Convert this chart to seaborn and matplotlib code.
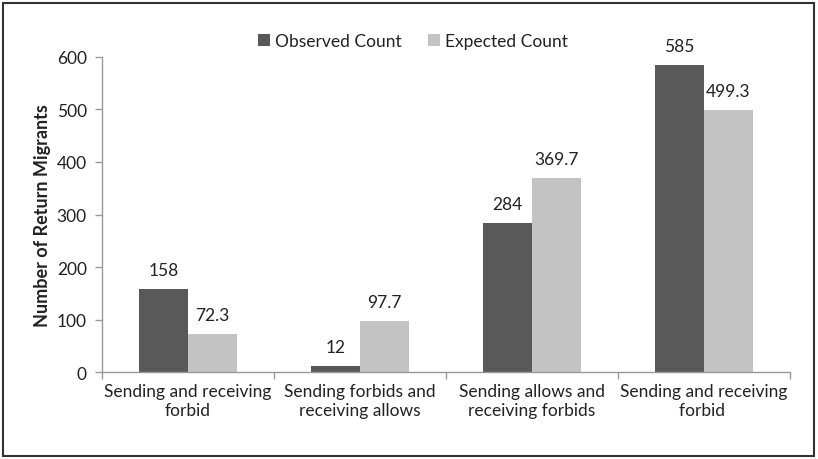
import matplotlib
matplotlib.use("Agg")
import matplotlib.pyplot as plt
from matplotlib.patches import Rectangle
from matplotlib.ticker import FixedLocator
import seaborn as sns
import pandas as pd

categories = [
    "Sending and receiving\nforbid",
    "Sending forbids and\nreceiving allows",
    "Sending allows and\nreceiving forbids",
    "Sending and receiving\nforbid ",
]
observed = [158, 12, 284, 585]
expected = [72.3, 97.7, 369.7, 499.3]
series_names = ["Observed Count", "Expected Count"]
y_ticks = [0, 100, 200, 300, 400, 500, 600]

df = pd.DataFrame({
    "category": categories * 2,
    "series": [series_names[0]] * 4 + [series_names[1]] * 4,
    "value": observed + expected,
})

sns.set_theme(style="white")
plt.rcParams["font.family"] = ["Lato", "DejaVu Sans"]

fig = plt.figure(figsize=(8.18, 4.6), dpi=100)
ax = fig.add_axes([0.1247, 0.189, 0.8411, 0.685])

sns.barplot(data=df, x="category", y="value", hue="series",
            palette=["#595959", "#c3c3c3"], width=0.57, saturation=1,
            order=categories, hue_order=series_names, linewidth=0, ax=ax)

labels = [["158", "12", "284", "585"], ["72.3", "97.7", "369.7", "499.3"]]
for cont, labs in zip(ax.containers, labels):
    ax.bar_label(cont, labels=labs, padding=8, fontsize=12.5, color="#222222")

ax.set_ylim(0, 600)
ax.set_xlim(-0.5, 3.5)
ax.set_yticks(y_ticks)
ax.tick_params(axis="y", labelsize=12.5, length=5, width=1, color="#999999",
               left=True, labelcolor="#222222", pad=6)
ax.tick_params(axis="x", which="major", length=0, labelsize=12.5,
               labelcolor="#222222", pad=8)
ax.xaxis.set_minor_locator(FixedLocator([-0.5, 0.5, 1.5, 2.5, 3.5]))
ax.tick_params(axis="x", which="minor", length=5, width=1, color="#999999",
               bottom=True)
ax.set_xlabel("")
ax.set_ylabel("Number of Return Migrants", fontsize=13, fontweight="bold",
              color="#222222", labelpad=4)

for side in ["top", "right"]:
    ax.spines[side].set_visible(False)
for side in ["left", "bottom"]:
    ax.spines[side].set_color("#999999")
    ax.spines[side].set_linewidth(1)

leg = ax.legend(loc="center", bbox_to_anchor=(0.452, 1.05), ncol=2,
                frameon=False, fontsize=12.5, handlelength=0.7, handleheight=0.7,
                handletextpad=0.3, columnspacing=1.5)
for t in leg.get_texts():
    t.set_color("#222222")

fig.patches.append(Rectangle((0.004, 0.007), 0.991, 0.985,
                             transform=fig.transFigure, fill=False,
                             edgecolor="#333333", linewidth=1.5))

fig.savefig("out.png", dpi=100, facecolor="white")
